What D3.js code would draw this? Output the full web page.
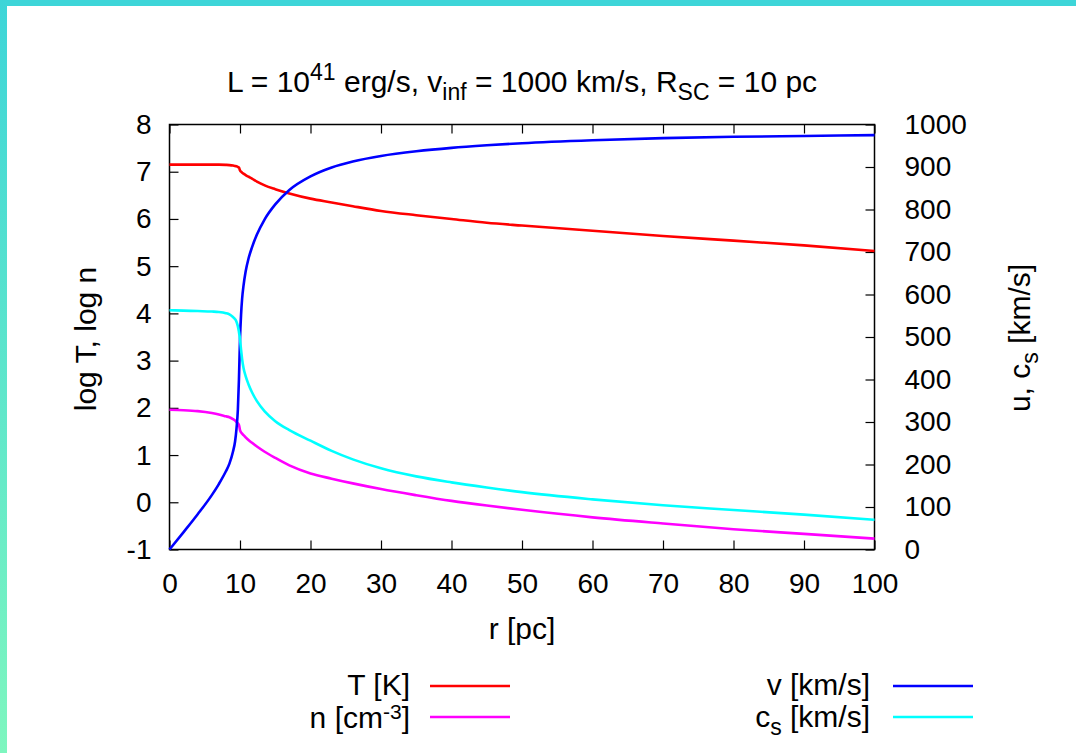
<!DOCTYPE html>
<html>
<head>
<meta charset="utf-8">
<script src="https://cdn.jsdelivr.net/npm/d3@7"></script>
<style>
  body { margin: 0; background: #fff; }
  svg { display: block; }
  text { font-family: "Liberation Sans", Arial, sans-serif; fill: #000; }
</style>
</head>
<body>
<div class="chart"></div>
<script>
// radius grid, dense around the cluster edge at 10 pc
var radius = [0, 2, 4, 6, 7, 8, 8.5, 9, 9.3, 9.5, 9.7, 9.85, 10, 10.15, 10.3, 10.5, 10.8, 11.2, 11.7, 12.4, 13.5, 15, 17, 20, 23, 26, 30, 35, 40, 45, 50, 60, 70, 80, 90, 100];
var logT = [7.15, 7.15, 7.15, 7.15, 7.15, 7.145, 7.14, 7.13, 7.12, 7.115, 7.10, 7.09, 7.03, 7.0, 6.98, 6.96, 6.93, 6.895, 6.855, 6.79, 6.71, 6.63, 6.54, 6.43, 6.35, 6.27, 6.17, 6.08, 6.0, 5.92, 5.86, 5.75, 5.64, 5.54, 5.44, 5.32];
var logN = [1.96, 1.95, 1.93, 1.89, 1.86, 1.82, 1.80, 1.76, 1.73, 1.70, 1.67, 1.64, 1.53, 1.48, 1.455, 1.42, 1.375, 1.32, 1.26, 1.18, 1.07, 0.94, 0.78, 0.61, 0.50, 0.40, 0.28, 0.15, 0.03, -0.07, -0.16, -0.32, -0.45, -0.57, -0.67, -0.77];
var velocity = [0, 41, 83, 128, 154, 184, 202, 230, 254, 284, 330, 400, 495, 552, 590, 621, 654, 684, 711, 741, 777, 812, 846, 878, 899, 913, 926, 937, 945, 951, 956, 963, 968, 971, 973, 975];
var soundSpeed = [563, 562, 561, 560, 559, 556, 553, 547, 542, 536, 525, 512, 495, 470, 448, 427, 408, 389, 370, 349, 325, 302, 281, 256, 232, 212, 191, 172, 158, 146, 135, 118, 104, 93, 82, 70];

var xTicks = [0, 10, 20, 30, 40, 50, 60, 70, 80, 90, 100];
var yTicks = [-1, 0, 1, 2, 3, 4, 5, 6, 7, 8];
var y2Ticks = [0, 100, 200, 300, 400, 500, 600, 700, 800, 900, 1000];

var width = 1076,
  height = 753,
  margin = { top: 124.5, bottom: 203.5, left: 169.5, right: 201.5 },
  tickFont = 28,
  fontSize = 30,
  subFont = 23,
  tickLen = 9;

var series = [
  { label: 'T [K]', values: logT, axis: 'y', color: '#ff0000' },
  { label: 'n [cm-3]', values: logN, axis: 'y', color: '#ff00ff' },
  { label: 'v [km/s]', values: velocity, axis: 'y2', color: '#0000ff' },
  { label: 'cs [km/s]', values: soundSpeed, axis: 'y2', color: '#00ffff' }
];

function plain(d) {
  return String(d);
}

function drawChart() {
  var svg = d3.select('.chart')
    .append('svg')
    .attr('width', width)
    .attr('height', height);

  var defs = svg.append('defs');
  var grad = defs.append('linearGradient')
    .attr('id', 'edge')
    .attr('x1', 0).attr('y1', 0)
    .attr('x2', 0).attr('y2', 1);
  grad.append('stop').attr('offset', '0%').attr('stop-color', '#3dd5d8');
  grad.append('stop').attr('offset', '100%').attr('stop-color', '#7ef6bf');

  // page frame
  svg.append('rect')
    .attr('x', 0).attr('y', 0)
    .attr('width', width).attr('height', 6)
    .attr('fill', '#3dd5d8');
  svg.append('rect')
    .attr('x', 0).attr('y', 0)
    .attr('width', 7).attr('height', height)
    .attr('fill', 'url(#edge)');

  var x = d3.scaleLinear()
    .domain([0, 100])
    .range([margin.left, width - margin.right]);
  var y = d3.scaleLinear()
    .domain([-1, 8])
    .range([height - margin.bottom, margin.top]);
  var y2 = d3.scaleLinear()
    .domain([0, 1000])
    .range([height - margin.bottom, margin.top]);

  var g = svg.append('g');

  // axes, ticks pointing inwards (gnuplot style)
  var bottom = g.append('g')
    .attr('transform', 'translate(0,' + y.range()[0] + ')')
    .call(d3.axisBottom(x).tickValues(xTicks).tickFormat(plain).tickSize(-tickLen).tickPadding(tickLen + 8));
  var top = g.append('g')
    .attr('transform', 'translate(0,' + y.range()[1] + ')')
    .call(d3.axisTop(x).tickValues(xTicks).tickSize(-tickLen).tickFormat(''));
  var left = g.append('g')
    .attr('transform', 'translate(' + x.range()[0] + ',0)')
    .call(d3.axisLeft(y).tickValues(yTicks).tickFormat(plain).tickSize(-tickLen).tickPadding(tickLen + 9));
  var right = g.append('g')
    .attr('transform', 'translate(' + x.range()[1] + ',0)')
    .call(d3.axisRight(y2).tickValues(y2Ticks).tickFormat(plain).tickSize(-tickLen).tickPadding(tickLen + 21));

  [bottom, top, left, right].forEach(function (a) {
    a.select('.domain').remove();
    a.selectAll('line').attr('stroke', '#000').attr('stroke-width', 1.2);
    a.selectAll('text')
      .style('font-family', '"Liberation Sans", Arial, sans-serif')
      .style('font-size', tickFont + 'px')
      .attr('fill', '#000');
  });
  bottom.selectAll('text').attr('dy', '0.95em');

  g.append('rect')
    .attr('x', x.range()[0])
    .attr('y', y.range()[1])
    .attr('width', x.range()[1] - x.range()[0])
    .attr('height', y.range()[0] - y.range()[1])
    .attr('fill', 'none')
    .attr('stroke', '#000')
    .attr('stroke-width', 1.5);

  // curves
  series.forEach(function (s) {
    var scale = s.axis === 'y' ? y : y2;
    var line = d3.line()
      .x(function (d, i) { return x(radius[i]); })
      .y(function (d) { return scale(d); })
      .curve(d3.curveMonotoneX);
    g.append('path')
      .datum(s.values)
      .attr('fill', 'none')
      .attr('stroke', s.color)
      .attr('stroke-width', 2.6)
      .attr('stroke-linejoin', 'round')
      .attr('d', line);
  });

  // title
  var title = svg.append('text')
    .attr('x', 522)
    .attr('y', 92)
    .attr('text-anchor', 'middle')
    .style('font-size', fontSize + 'px');
  title.append('tspan').text('L = 10');
  title.append('tspan').attr('dy', -12).style('font-size', subFont + 'px').text('41');
  title.append('tspan').attr('dy', 12).text(' erg/s, v');
  title.append('tspan').attr('dy', 8).style('font-size', subFont + 'px').text('inf');
  title.append('tspan').attr('dy', -8).text(' = 1000 km/s, R');
  title.append('tspan').attr('dy', 8).style('font-size', subFont + 'px').text('SC');
  title.append('tspan').attr('dy', -8).text(' = 10 pc');

  // axis labels
  svg.append('text')
    .attr('x', 522)
    .attr('y', 639)
    .attr('text-anchor', 'middle')
    .style('font-size', fontSize + 'px')
    .text('r [pc]');

  svg.append('text')
    .attr('transform', 'translate(96,339) rotate(-90)')
    .attr('text-anchor', 'middle')
    .style('font-size', fontSize + 'px')
    .text('log T, log n');

  var rl = svg.append('text')
    .attr('transform', 'translate(1030,338) rotate(-90)')
    .attr('text-anchor', 'middle')
    .style('font-size', fontSize + 'px');
  rl.append('tspan').text('u, c');
  rl.append('tspan').attr('dy', 8).style('font-size', subFont + 'px').text('s');
  rl.append('tspan').attr('dy', -8).text(' [km/s]');

  // legend, two columns
  var legendPos = [
    { tx: 410, lx: 430, ly: 686 },
    { tx: 410, lx: 430, ly: 717 },
    { tx: 870, lx: 893, ly: 686 },
    { tx: 870, lx: 893, ly: 717 }
  ];
  series.forEach(function (s, i) {
    var p = legendPos[i];
    var t = svg.append('text')
      .attr('x', p.tx)
      .attr('y', p.ly + 10)
      .attr('text-anchor', 'end')
      .style('font-size', fontSize + 'px');
    if (i === 1) {
      t.attr('y', p.ly + 11);
      t.append('tspan').text('n [cm');
      t.append('tspan').attr('dy', -9).style('font-size', '21px').text('-3');
      t.append('tspan').attr('dy', 9).text(']');
    } else if (i === 3) {
      t.append('tspan').text('c');
      t.append('tspan').attr('dy', 8).style('font-size', subFont + 'px').text('s');
      t.append('tspan').attr('dy', -8).text(' [km/s]');
    } else {
      t.attr('y', p.ly + 9).text(s.label);
    }
    svg.append('line')
      .attr('x1', p.lx)
      .attr('x2', p.lx + 80)
      .attr('y1', p.ly)
      .attr('y2', p.ly)
      .attr('stroke', s.color)
      .attr('stroke-width', 2.6);
  });
}

drawChart();
</script>
</body>
</html>
